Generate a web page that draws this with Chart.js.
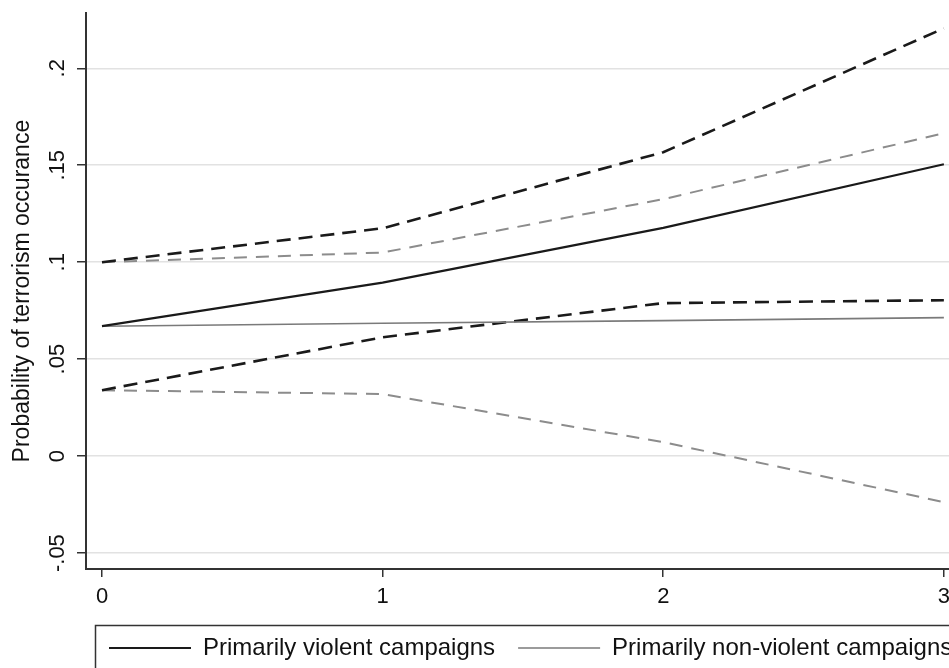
<!DOCTYPE html>
<html>
<head>
<meta charset="utf-8">
<script src="https://cdn.jsdelivr.net/npm/chart.js@4"></script>
<style>
  html, body { margin: 0; padding: 0; background: #fff; overflow: hidden; }
  #chart { display: block; }
</style>
</head>
<body>
<canvas id="chart" width="1000" height="670"></canvas>
<script>
// x axis values and ticks
const xValues = [0, 1, 2, 3];
const xTicks = [0, 1, 2, 3];
const yTicks = [-0.05, 0, 0.05, 0.1, 0.15, 0.2];
const yTickLabels = ['-.05', '0', '.05', '.1', '.15', '.2'];

// primarily violent campaigns: estimate + 95% band
const violent = [0.067, 0.0895, 0.1177, 0.1505];
const violentUpper = [0.100, 0.1175, 0.1567, 0.2206];
const violentLower = [0.034, 0.0613, 0.0789, 0.0804];

// primarily non-violent campaigns
const nonViolent = [0.067, 0.0685, 0.0699, 0.0714];
const nonViolentUpper = [0.100, 0.1050, 0.1325, 0.1665];
const nonViolentLower = [0.034, 0.0320, 0.0072, -0.0237];

const labelViolent = 'Primarily violent campaigns';
const labelNonViolent = 'Primarily non-violent campaigns';

const FONT = '"Liberation Sans", Arial, Helvetica, sans-serif';

const pts = arr => arr.map((v, i) => ({ x: xValues[i], y: v }));

function line(label, data, color, width, dash) {
    return {
        label: label,
        data: pts(data),
        borderColor: color,
        backgroundColor: color,
        borderWidth: width,
        borderDash: dash || [],
        pointRadius: 0,
        fill: false,
        tension: 0
    };
}

// frame drawn round the legend, like the stata one
const legendFrame = {
    id: 'legendFrame',
    afterDraw(chart) {
        const ctx = chart.ctx;
        const lg = chart.legend;
        ctx.save();
        ctx.strokeStyle = '#333';
        ctx.lineWidth = 1.5;
        ctx.strokeRect(lg.left + 9.5, lg.top + 12.5, 2000, 200);
        ctx.restore();
    }
};

new Chart(document.getElementById('chart'), {
    type: 'line',
    data: {
        datasets: [
            line(labelViolent, violent, '#1a1a1a', 2.2),
            line(labelNonViolent, nonViolent, '#7a7a7a', 1.6),
            line('violent upper', violentUpper, '#1a1a1a', 2.6, [14, 8]),
            line('violent lower', violentLower, '#1a1a1a', 2.6, [14, 8]),
            line('non-violent upper', nonViolentUpper, '#8c8c8c', 2, [13, 9]),
            line('non-violent lower', nonViolentLower, '#8c8c8c', 2, [13, 9])
        ]
    },
    options: {
        responsive: false,
        animation: false,
        layout: { padding: { top: 13, left: 0, right: 0, bottom: 0 } },
        plugins: {
            tooltip: { enabled: false },
            legend: {
                display: true,
                position: 'bottom',
                align: 'start',
                fullSize: false,
                labels: {
                    filter: item => item.datasetIndex < 2,
                    usePointStyle: true,
                    pointStyle: 'line',
                    pointStyleWidth: 82,
                    padding: 23,
                    color: '#111',
                    font: { family: FONT, size: 24 }
                }
            }
        },
        scales: {
            x: {
                type: 'linear',
                min: -0.057,
                max: 3.2,
                afterBuildTicks: s => { s.ticks = xTicks.map(v => ({ value: v })); },
                afterFit: s => { s.height = 44; },
                border: { color: '#333', width: 2 },
                grid: {
                    color: 'rgba(0,0,0,0)',
                    tickColor: '#333',
                    tickLength: 8,
                    lineWidth: 1.5
                },
                ticks: {
                    color: '#111',
                    padding: 7,
                    maxRotation: 0,
                    font: { family: FONT, size: 22 }
                }
            },
            y: {
                min: -0.0582,
                max: 0.2284,
                afterBuildTicks: s => { s.ticks = yTicks.map(v => ({ value: v })); },
                afterFit: s => { s.width = 86; },
                border: { color: '#333', width: 2 },
                grid: {
                    color: '#e2e2e2',
                    tickColor: '#333',
                    tickLength: 9,
                    lineWidth: 1.5
                },
                ticks: {
                    color: '#111',
                    padding: 0,
                    minRotation: 90,
                    maxRotation: 90,
                    crossAlign: 'center',
                    align: 'center',
                    font: { family: FONT, size: 22 },
                    callback: (value, index) => yTickLabels[index]
                },
                title: {
                    display: true,
                    text: 'Probability of terrorism occurance',
                    color: '#111',
                    padding: { top: 9, bottom: 0 },
                    font: { family: FONT, size: 23 }
                }
            }
        }
    },
    plugins: [legendFrame]
});
</script>
</body>
</html>
